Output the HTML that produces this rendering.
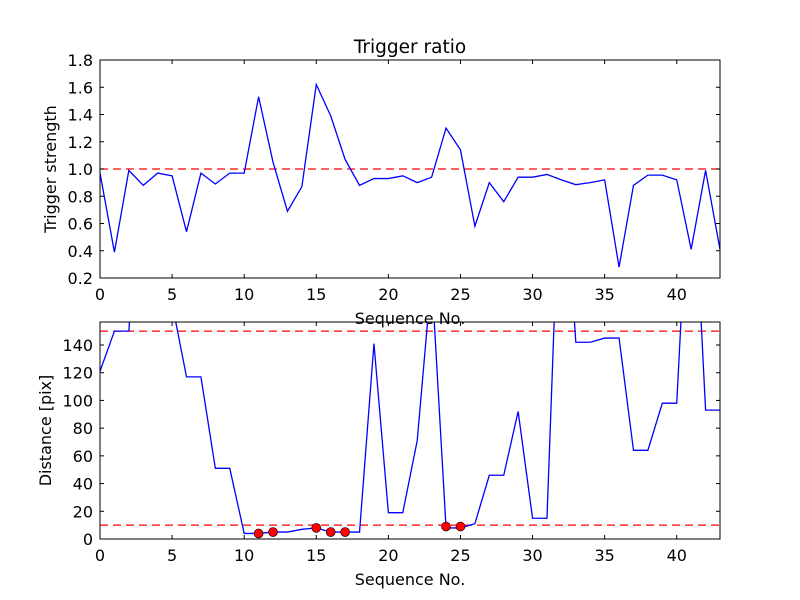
<!DOCTYPE html>
<html><head><meta charset="utf-8"><style>
body{margin:0;background:#fff}
svg{display:block;font-family:"DejaVu Sans","Liberation Sans",sans-serif}
</style></head><body>
<svg id="fig" width="800" height="600" viewBox="0 0 800 600" xmlns="http://www.w3.org/2000/svg">
<rect width="800" height="600" fill="#fff"/>
</svg>
<script>
const seqIndex = [];
for (let i = 0; i <= 43; i++) seqIndex.push(i);
const ratioValues = [0.97,0.39,0.99,0.88,0.97,0.95,0.54,0.97,0.89,0.97,0.97,1.53,1.05,0.69,0.87,1.62,1.39,1.07,0.88,0.93,0.93,0.95,0.90,0.94,1.30,1.14,0.58,0.90,0.76,0.94,0.94,0.96,0.92,0.885,0.90,0.92,0.28,0.88,0.955,0.955,0.92,0.41,0.99,0.41];
const distValues = [121,150,150,300,300,170,117,117,51,51,4,4,5,5,7,8,5,5,5,141,19,19,71,190,8,8,11,46,46,92,15,15,300,142,142,145,145,64,64,98,98,300,93,93];
const markerIdx = [11,12,15,16,17,24,25];
const markerVals = [4,5,8,5,5,9,9];
const topYTicks = [0.2,0.4,0.6,0.8,1.0,1.2,1.4,1.6,1.8];
const botYTicks = [0,20,40,60,80,100,120,140];
const xTicks = [0,5,10,15,20,25,30,35,40];
const topThreshold = [1.0];
const botThresholds = [150,10];

const NS='http://www.w3.org/2000/svg';
const svg=document.getElementById('fig');
function mk(tag,attrs,parent){const e=document.createElementNS(NS,tag);for(const k in attrs)e.setAttribute(k,attrs[k]);(parent||svg).appendChild(e);return e;}

function panel(name,y0,y1,ymin,ymax,yticks,fmt,ylabel,title){
  const x0=100,x1=720;
  const g=mk('g',{});
  
  
  const sx=v=>x0+(v-0)/(43-0)*(x1-x0);
  const sy=v=>y1-(v-ymin)/(ymax-ymin)*(y1-y0);
  const cid='clip-'+name;
  const cp=mk('clipPath',{id:cid},g);mk('rect',{x:x0,y:y0,width:x1-x0,height:y1-y0},cp);
  const plot=mk('g',{'clip-path':'url(#'+cid+')'},g);
  return {g,plot,sx,sy,x0,x1,y0,y1,finish(){
    const fr=mk('rect',{x:x0,y:y0,width:x1-x0,height:y1-y0,fill:'none',stroke:'#000','stroke-width':1},g);
    
    xTicks.forEach(t=>{const X=sx(t);
      mk('line',{x1:X,x2:X,y1:y1,y2:y1-4,stroke:'#000'},g);mk('line',{x1:X,x2:X,y1:y0,y2:y0+4,stroke:'#000'},g);
      const tx=mk('text',{x:X,y:y1+22,'font-size':16,'text-anchor':'middle'},g);tx.textContent=t;
      });
    yticks.forEach(t=>{const Y=sy(t);
      mk('line',{x1:x0,x2:x0+4,y1:Y,y2:Y,stroke:'#000'},g);mk('line',{x1:x1,x2:x1-4,y1:Y,y2:Y,stroke:'#000'},g);
      const tx=mk('text',{x:x0-7,y:Y+6,'font-size':16,'text-anchor':'end'},g);tx.textContent=fmt(t);
      });
    const xl=mk('text',{x:(x0+x1)/2,y:y1+46,'font-size':16,'text-anchor':'middle'},g);xl.textContent='Sequence No.';
    
    const yl=mk('text',{x:0,y:0,'font-size':16,'text-anchor':'middle',transform:'translate('+(name==='top-panel'?56:51)+','+((y0+y1)/2)+') rotate(-90)'},g);yl.textContent=ylabel;
    
    if(title){const t=mk('text',{x:(x0+x1)/2,y:y0-7,'font-size':18.5,'text-anchor':'middle'},g);t.textContent=title;
      }
  }};
}

// top
const A=panel('top-panel',60,278,0.2,1.8,topYTicks,v=>v.toFixed(1),'Trigger strength','Trigger ratio');
topThreshold.forEach(v=>{const l=mk('line',{x1:A.x0,x2:A.x1,y1:A.sy(v),y2:A.sy(v),stroke:'#ff0000','stroke-width':1.3,'stroke-dasharray':'8,5'},A.plot);
  });
const pa=mk('polyline',{points:seqIndex.map((x,i)=>A.sx(x)+','+A.sy(ratioValues[i])).join(' '),fill:'none',stroke:'#0000ff','stroke-width':1.3},A.plot);

A.finish();

// bottom
const B=panel('bottom-panel',322,539,0,156.6,botYTicks,v=>String(v),'Distance [pix]',null);
botThresholds.forEach(v=>{const l=mk('line',{x1:B.x0,x2:B.x1,y1:B.sy(v),y2:B.sy(v),stroke:'#ff0000','stroke-width':1.3,'stroke-dasharray':'8,5'},B.plot);
  });
const pb=mk('polyline',{points:seqIndex.map((x,i)=>B.sx(x)+','+B.sy(distValues[i])).join(' '),fill:'none',stroke:'#0000ff','stroke-width':1.3},B.plot);

markerIdx.forEach((x,i)=>{const c=mk('circle',{cx:B.sx(x),cy:B.sy(markerVals[i]),r:4.5,fill:'#ff0000',stroke:'#000','stroke-width':0.6},B.g);
  });
B.finish();
</script>
</body></html>
